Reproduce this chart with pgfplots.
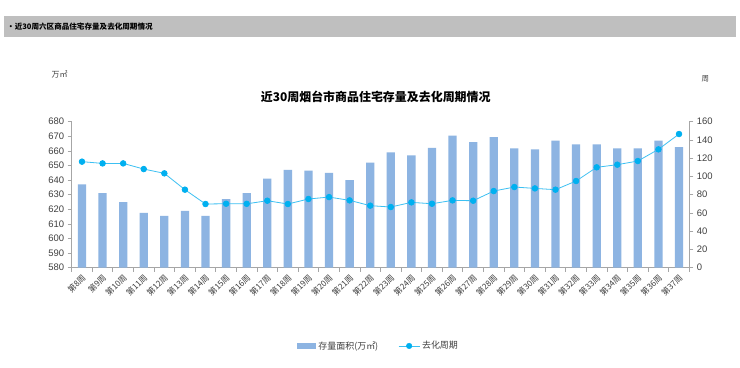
\documentclass[border=0pt]{standalone}
\usepackage{pgfplots}
\pgfplotsset{compat=1.18}
\usepackage{fontspec}
\setmainfont{Liberation Sans}
\newfontfamily\cjk{Noto Sans CJK SC}
\definecolor{hdr}{HTML}{BFBFBF}
\definecolor{barc}{HTML}{8DB4E2}
\definecolor{linec}{HTML}{00B0F0}
\definecolor{linel}{HTML}{3CC0F2}
\definecolor{axisc}{HTML}{A6A6A6}
\definecolor{txt}{HTML}{404040}
\pgfplotstableread{
x bar line
0 637 116.2
1 631 114.3
2 625 114.3
3 617.5 108.1
4 615.5 103.4
5 619 85.5
6 615.5 69.8
7 627 70.1
8 631 70
9 641 73.4
10 647 69.8
11 646.5 75.3
12 645 77.4
13 640 73.8
14 652 68
15 659 66.5
16 657 71.6
17 662 70.1
18 670.5 73.8
19 666 73.4
20 669.5 84
21 661.7 88.4
22 661 86.9
23 667 85.5
24 664.5 95
25 664.5 110
26 661.7 112.9
27 661.7 116.9
28 667 129.7
29 662.6 146.5
}\data
\begin{document}
\begin{tikzpicture}[x=1bp,y=1bp]
\path[use as bounding box, fill=white] (0,0) rectangle (740,367);
\fill[hdr] (4,330) rectangle (736,351);
\node[anchor=west, inner sep=0pt, font=\cjk\bfseries\fontsize{7.6}{9}\selectfont] at (7,340.5) {•近30周六区商品住宅存量及去化周期情况};
\node[font=\cjk\bfseries\fontsize{12}{14}\selectfont, text=black] at (375.7,270) {近30周烟台市商品住宅存量及去化周期情况};
\node[font=\cjk\fontsize{8}{10}\selectfont, text=txt, inner sep=0pt] at (59.5,292.7) {万㎡};
\node[font=\cjk\fontsize{7.5}{9}\selectfont, text=txt, inner sep=0pt] at (705.3,288) {周};
\begin{axis}[
  at={(71.7bp,99.3bp)}, anchor=south west,
  scale only axis, width=617.6bp, height=146bp,
  xmin=-0.5, xmax=29.5, ymin=580, ymax=680,
  ytick={580,590,...,680},
  axis y line*=left, axis x line*=bottom,
  axis line style={draw=axisc, line width=0.8pt},
  tick align=outside,
  major tick length=4bp, minor tick length=4bp,
  ytick style={draw=axisc, line width=0.8pt},
  major x tick style={draw=none},
  minor x tick style={draw=axisc, line width=0.8pt},
  xtick={0,...,29},
  minor xtick={-0.5,0.5,...,29.5},
  xticklabels={第8周,第9周,第10周,第11周,第12周,第13周,第14周,第15周,第16周,第17周,第18周,第19周,第20周,第21周,第22周,第23周,第24周,第25周,第26周,第27周,第28周,第29周,第30周,第31周,第32周,第33周,第34周,第35周,第36周,第37周},
  xticklabel style={font=\cjk\fontsize{8.3}{10}\selectfont, text=txt, rotate=45, anchor=north east, inner sep=0.5bp, xshift=-1bp},
  yticklabel style={font=\fontsize{9.5}{11}\selectfont, text=txt},
  /pgf/number format/assume math mode=true,
  legend style={at={(0.497,-0.536)}, anchor=center, legend columns=2, draw=none, fill=none,
    font=\cjk\fontsize{9}{11}\selectfont, text=txt,
    /tikz/every even column/.append style={column sep=18bp}},
]
\addplot[ybar, bar width=8.3bp, fill=barc, draw=none,
  legend image code/.code={\fill[barc] (0bp,-3bp) rectangle (19bp,3bp);}]
  table[x=x,y=bar] {\data};
\addlegendentry{存量面积(万㎡)}
\addlegendimage{legend image code/.code={\draw[linel, line width=0.8pt] (0bp,0bp) -- (21bp,0bp); \fill[linec] (10.5bp,0bp) circle (2.8bp);}}
\addlegendentry{去化周期}
\end{axis}
\begin{axis}[
  at={(71.7bp,99.3bp)}, anchor=south west,
  scale only axis, width=617.6bp, height=146bp,
  xmin=-0.5, xmax=29.5, ymin=0, ymax=160,
  ytick={0,20,...,160},
  axis y line*=right, axis x line=none,
  axis line style={draw=axisc, line width=0.8pt},
  tick align=outside, major tick length=4bp,
  ytick style={draw=axisc, line width=0.8pt},
  yticklabel style={font=\fontsize{9.5}{11}\selectfont, text=txt},
  /pgf/number format/assume math mode=true,
  clip=false,
]
\addplot[linel, line width=0.8pt, mark=*, mark size=2.8bp, mark options={fill=linec, draw=linec}]
  table[x=x,y=line] {\data};
\end{axis}
\end{tikzpicture}
\end{document}
